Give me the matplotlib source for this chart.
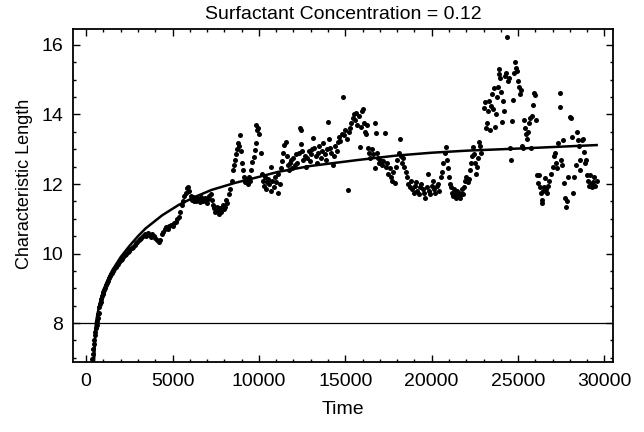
import matplotlib
matplotlib.use("Agg")
import matplotlib.pyplot as plt
from matplotlib.ticker import MultipleLocator

plt.rcParams['font.family'] = ['Liberation Sans', 'DejaVu Sans']

time_early = [350, 390, 420, 450, 480, 510, 540, 570, 600, 630, 660, 690, 720, 760, 800, 840,
              880, 920, 960, 1000, 1050, 1100, 1150, 1200, 1260, 1320, 1380, 1440, 1500, 1570,
              1640, 1710, 1780, 1850, 1920, 2000, 2080, 2160, 2240, 2320, 2400, 2480, 2560,
              2640, 2720, 2800, 2880, 2960, 3040, 3120, 3200, 3290, 3380, 3470, 3560, 3650,
              3740, 3830, 3920, 4010, 4100, 4190, 4280, 4370, 4460, 4550, 4640, 4730, 4820,
              4910, 5000, 5090, 5180, 5270, 5360]
length_early = [6.97, 7.1, 7.25, 7.4, 7.5, 7.65, 7.75, 7.85, 7.95, 8.05, 8.15, 8.25, 8.3, 8.45,
                8.55, 8.6, 8.7, 8.78, 8.85, 8.9, 8.95, 9.02, 9.1, 9.15, 9.22, 9.3, 9.35, 9.4,
                9.45, 9.5, 9.56, 9.6, 9.66, 9.7, 9.76, 9.8, 9.85, 9.9, 9.95, 10.0, 10.03, 10.08,
                10.12, 10.16, 10.2, 10.25, 10.3, 10.33, 10.38, 10.42, 10.45, 10.5, 10.55, 10.5,
                10.58, 10.52, 10.47, 10.55, 10.5, 10.45, 10.38, 10.32, 10.4, 10.55, 10.62,
                10.7, 10.75, 10.7, 10.78, 10.82, 10.78, 10.88, 10.92, 10.98, 11.05]

time_mid = [5450, 5530, 5610, 5690, 5770, 5850, 5920, 5980, 6040, 6100, 6160, 6220, 6290, 6360,
            6430, 6500, 6570, 6640, 6710, 6780, 6850, 6920, 6990, 7060, 7130, 7200, 7270, 7340,
            7410, 7480, 7550, 7620, 7690, 7760, 7830, 7900, 7970, 8040, 8110, 8180, 8240,
            8350, 8420, 8480, 8550, 8610, 8660, 8720, 8780, 8850, 8910, 8960, 9020, 9080, 9150,
            9220, 9290, 9350, 9420, 9500, 9560, 9620, 9690, 9750, 9820, 9850, 9900, 9960,
            10020, 10100, 10150, 10220, 10280, 10340, 10400, 10460, 10540]
length_mid = [11.2, 11.4, 11.5, 11.65, 11.75, 11.88, 11.92, 11.8, 11.65, 11.55, 11.62, 11.52,
              11.58, 11.5, 11.6, 11.55, 11.48, 11.62, 11.55, 11.5, 11.6, 11.52, 11.45, 11.58,
              11.65, 11.72, 11.55, 11.4, 11.3, 11.2, 11.35, 11.25, 11.15, 11.3, 11.2, 11.4,
              11.28, 11.35, 11.55, 11.45, 11.7,
              11.85, 12.1, 12.4, 12.55, 12.7, 12.85, 13.0, 13.18, 13.1, 13.4, 12.95, 12.6, 12.4,
              12.2, 12.05, 12.12, 12.0, 12.2, 12.1, 12.4, 12.63, 12.78, 12.98, 13.18, 13.7,
              13.55, 13.62, 13.45, 12.9, 12.3, 12.1, 11.95, 12.2, 11.85, 12.05, 12.15]

time_late = [10600, 10680, 10720, 10780, 10850, 10920, 11000, 11080, 11120, 11200, 11290,
             11350, 11420, 11480, 11540, 11600, 11660, 11720, 11800, 11870, 11940, 12000,
             12080, 12150, 12220, 12300, 12380, 12420, 12460, 12520, 12580, 12650, 12720,
             12800, 12880, 12950, 13020, 13100, 13130, 13200, 13280, 13350, 13420, 13500,
             13570, 13640, 13720, 13800, 13870, 13940, 14000, 14050, 14120, 14200, 14280,
             14350, 14420, 14500, 14570, 14640, 14700, 14780, 14860, 14920, 15000, 15080,
             15150, 15200,
             15280, 15350, 15420, 15480, 15550, 15620, 15700, 15780, 15840, 15900, 15950,
             16010, 16060, 16120, 16180, 16250, 16300, 16380, 16450, 16520, 16600, 16700,
             16720, 16780, 16840, 16900, 16960, 17030, 17100, 17160, 17280, 17350, 17420,
             17500, 17560, 17620, 17700, 17780, 17860,
             17950, 18020, 18080, 18150, 18200, 18270, 18340, 18420, 18500, 18580, 18650,
             18720, 18800, 18880, 18950, 19020, 19100, 19170, 19240, 19320, 19400, 19470,
             19540, 19620, 19700, 19770, 19840, 19920, 20000, 20070, 20150, 20220, 20300,
             20380, 20450, 20520, 20600, 20680, 20750, 20800, 20860, 20920, 20980, 21040,
             21100, 21160, 21220, 21280, 21340, 21400, 21460, 21520, 21580, 21640, 21700,
             21760, 21820, 21880, 21950, 22010, 22080, 22150, 22200, 22260, 22320, 22380,
             22440, 22500, 22560, 22620, 22680, 22740, 22800, 22860]
length_late = [12.0, 11.8, 12.5, 12.1, 11.9, 12.2, 12.05, 11.75, 12.3, 12.0, 12.45, 12.65,
               12.9, 13.12, 13.2, 12.8, 12.55, 12.4, 12.6, 12.7, 12.45, 12.75, 12.55, 12.85,
               12.6, 12.9, 13.6, 13.55, 13.15, 12.95, 12.7, 12.8, 12.5, 12.75, 12.95, 12.65,
               12.85, 13.0, 13.32, 13.05, 12.8, 12.6, 12.9, 13.1, 12.75, 12.95, 13.18, 12.85,
               12.7, 13.0, 13.78, 13.3, 13.05, 12.9, 12.55, 12.8, 13.1, 12.95, 13.2, 13.35,
               13.25, 13.45, 14.5, 13.4, 13.55, 13.3, 11.83, 13.5,
               13.6, 13.75, 13.9, 14.0, 13.85, 14.05, 13.7, 13.95, 13.07, 13.65, 14.1, 14.16,
               13.75, 13.5, 13.45, 13.7, 13.05, 12.9, 12.75, 13.0, 12.85, 13.75, 12.46, 13.47,
               12.9, 12.75, 12.6, 12.7, 12.55, 12.65, 13.47, 12.5, 12.6, 12.3, 12.45, 12.2,
               12.1, 12.35, 12.03,
               12.5, 12.7, 12.9, 13.3, 12.8, 12.6, 12.75, 12.5, 12.35, 12.2, 12.0, 11.9, 12.1,
               11.85, 11.75, 11.95, 12.05, 11.8, 11.7, 11.9, 12.0, 11.85, 11.75, 11.6, 11.9,
               12.3, 11.8, 11.7, 11.95, 12.1, 11.85, 11.75, 11.95, 12.0, 11.8, 12.2, 12.35,
               12.6, 12.9, 13.07, 12.7, 12.45, 12.2, 12.0, 11.9, 11.75, 11.65, 11.85, 11.7,
               11.6, 11.8, 11.65, 11.75, 11.6, 11.7, 11.85, 11.7, 11.9, 12.1, 12.2, 12.05,
               12.15, 12.4, 12.6, 12.8, 13.07, 12.85, 12.6, 12.3, 12.5, 12.75, 13.2, 13.1, 12.9]

time_end = [23040, 23100, 23150, 23200, 23260, 23320, 23370, 23420, 23480, 23540, 23590,
            23640, 23700, 23760, 23820, 23880, 23920, 23960, 24020, 24080, 24130, 24200,
            24250, 24310, 24360, 24420, 24480, 24540, 24600, 24650, 24700, 24770, 24820,
            24880, 24940, 25000, 25060, 25120, 25180, 25230, 25280, 25340, 25400, 25460,
            25520, 25580, 25640, 25700, 25760, 25820, 25880, 25920, 25980, 26040,
            26100, 26150, 26200, 26260, 26320, 26360, 26400, 26450, 26500, 26550, 26600,
            26650, 26720, 26800, 26900, 27000, 27080, 27140, 27200, 27250, 27300, 27420,
            27440, 27500, 27560, 27620, 27680, 27720, 27780, 27840, 27900, 28000, 28080,
            28120, 28200, 28260, 28340, 28400, 28460, 28520, 28560, 28600, 28680, 28740,
            28800, 28860, 28920, 29000, 29060, 29120, 29180, 29240, 29300, 29360, 29420,
            29480, 29540]
length_end = [14.2, 14.35, 13.6, 13.75, 14.1, 14.4, 13.55, 14.25, 14.6, 14.15, 14.75, 13.65,
              14.0, 14.5, 14.8, 15.3, 15.15, 15.05, 14.65, 13.78, 14.4, 14.1, 15.1, 15.2,
              16.23, 14.95, 15.05, 13.04, 12.7, 13.8, 14.42, 15.2, 15.5, 15.35, 15.25, 14.95,
              14.8, 14.6, 14.7, 13.1, 13.04, 13.84, 13.6, 13.45, 13.3, 13.5, 13.75, 13.9,
              13.04, 13.95, 14.27, 14.62, 14.56, 13.85,
              12.26, 12.03, 12.25, 11.9, 11.74, 11.45, 11.55, 11.8, 11.9, 12.17, 11.85, 11.75,
              11.95, 12.1, 12.3, 12.5, 12.8, 12.9, 12.6, 12.45, 13.18, 14.62, 14.22, 12.7,
              12.55, 13.27, 12.03, 11.6, 11.33, 11.5, 12.2, 13.93, 13.9, 13.35, 11.74, 12.2,
              12.55, 13.5, 13.27, 13.1, 12.4, 12.7, 13.27, 13.3, 12.92, 12.6, 12.7, 12.26,
              12.1, 11.95, 12.26, 12.0, 11.9, 12.06, 12.2, 11.95, 12.1]

# fitted growth curve
fit_time = [460, 520, 560, 650, 800, 1000, 1250, 1515, 2000, 2476, 3000, 3435, 4400, 5360,
            6300, 7260, 8600, 9960, 11120, 13000, 15720, 18000, 20000, 22060, 25520, 29550]
fit_length = [6.93, 7.6, 8.0, 8.25, 8.6, 8.95, 9.25, 9.52, 9.9, 10.2, 10.5, 10.72, 11.1, 11.4,
              11.63, 11.83, 12.03, 12.2, 12.35, 12.52, 12.69, 12.82, 12.9, 12.96, 13.03, 13.12]

reference_level = 8

times = time_early + time_mid + time_late + time_end
lengths = length_early + length_mid + length_late + length_end

fig = plt.figure(figsize=(6.44, 4.32), dpi=100)
ax = fig.add_axes([0.1134, 0.162, 0.8386, 0.771])

ax.axhline(reference_level, color='black', linewidth=0.9)
ax.plot(fit_time, fit_length, color='black', linewidth=1.8)
ax.scatter(times, lengths, s=13, color='black', linewidths=0)

ax.set_xlim(-760, 30500)
ax.set_ylim(6.88, 16.46)
ax.xaxis.set_major_locator(MultipleLocator(5000))
ax.xaxis.set_minor_locator(MultipleLocator(1000))
ax.yaxis.set_major_locator(MultipleLocator(2))
ax.yaxis.set_minor_locator(MultipleLocator(0.5))
ax.tick_params(which='both', direction='in', top=True, right=True, labelsize=14, width=1)
ax.tick_params(which='major', length=5)
ax.tick_params(which='minor', length=2.5)
ax.tick_params(axis='x', pad=8)
ax.tick_params(axis='y', pad=7)
for s in ax.spines.values():
    s.set_linewidth(1.3)

ax.set_title("Surfactant Concentration = 0.12", fontsize=14, pad=7)
ax.set_xlabel("Time", fontsize=14, labelpad=8)
ax.set_ylabel("Characteristic Length", fontsize=13)
ax.yaxis.set_label_coords(-0.074, 0.535)

fig.savefig("out.png", dpi=100)
